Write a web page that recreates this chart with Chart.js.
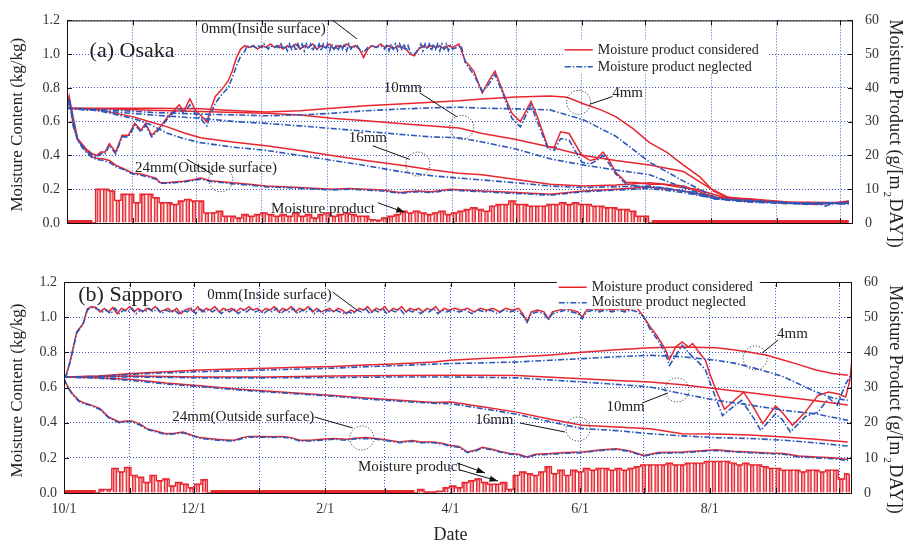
<!DOCTYPE html>
<html lang="en">
<head>
<meta charset="UTF-8">
<title>Moisture content and moisture product</title>
<style>
  html, body { margin: 0; padding: 0; background: #fff; }
  canvas { display: block; }
</style>
</head>
<body>
<canvas id="chartA" width="909" height="255"></canvas>
<canvas id="chartB" width="909" height="289"></canvas>
<script src="https://cdn.jsdelivr.net/npm/chart.js@4.4.0/dist/chart.umd.min.js"></script>
<script>
// days counted from 10/1
var monthDays = [0, 31, 61, 92, 123, 151, 182, 212, 243, 273, 304, 335, 365];
var monthLabels = ['10/1', '', '12/1', '', '2/1', '', '4/1', '', '6/1', '', '8/1', '', ''];
var contentTicks = [0, 0.2, 0.4, 0.6, 0.8, 1.0, 1.2];
var productTicks = [0, 10, 20, 30, 40, 50, 60];

var barDays = [
  0, 3, 6, 9, 12, 15, 18, 21, 24, 27,
  30, 33, 36, 39, 42, 45, 48, 51, 54, 57,
  60, 63, 66, 69, 72, 75, 78, 81, 84, 87,
  90, 93, 96, 99, 102, 105, 108, 111, 114, 117,
  120, 123, 126, 129, 132, 135, 138, 141, 144, 147,
  150, 153, 156, 159, 162, 165, 168, 171, 174, 177,
  180, 183, 186, 189, 192, 195, 198, 201, 204, 207,
  210, 213, 216, 219, 222, 225, 228, 231, 234, 237,
  240, 243, 246, 249, 252, 255, 258, 261, 264, 267,
  270, 273, 276, 279, 282, 285, 288, 291, 294, 297,
  300, 303, 306, 309, 312, 315, 318, 321, 324, 327,
  330, 333, 336, 339, 342, 345, 348, 351, 354, 357,
  360, 363, 366, 369
];

// ---------- (a) Osaka ----------
var osakaProduct = [
  0, 0, 0, 0, 0, 10, 10, 9.5, 6.7, 8.5,
  8.5, 6, 8.5, 8.5, 7.5, 6, 6, 5.5, 6.5, 7,
  6.5, 6.5, 3, 3, 3.5, 2, 2, 1.5, 2.5, 2,
  2.5, 3, 2.5, 2, 2.5, 2, 3, 2, 2.5, 1.5,
  2.5, 3, 2, 2.5, 3, 2.5, 2, 2, 1, 0.8,
  1.5, 2, 2.5, 3.5, 3, 3.5, 3, 2.5, 3, 3.5,
  2.5, 3, 3.5, 4, 4.5, 4, 3.5, 5, 5.5, 5.5,
  6.5, 5.5, 5.5, 5, 5, 5, 5.5, 5.5, 6, 5.5,
  6, 5.5, 5.5, 5, 5, 4.5, 4.5, 4, 4, 3.5,
  2, 2, 0, 0, 0, 0, 0, 0, 0, 0,
  0, 0, 0, 0, 0, 0, 0, 0, 0, 0,
  0, 0, 0, 0, 0, 0, 0, 0, 0, 0,
  0, 0, 0, 0
];

var osaka0Red = [[0,0.68],[1,0.75],[3,0.62],[5,0.50],[7,0.47],[9,0.44],[12,0.41],[14,0.40],[16,0.42],[18,0.42],[20,0.47],[23,0.42],[26,0.52],[29,0.52],[32,0.59],[35,0.55],[37,0.59],[40,0.52],[44,0.57],[47,0.62],[50,0.66],[53,0.70],[55,0.66],[58,0.735],[61,0.66],[63,0.64],[66,0.60],[68,0.68],[70,0.75],[73,0.79],[76,0.84],[78,0.90],[80,0.98],[82,1.03],[84,1.05],[86,1.04],[88,1.05],[90,1.03],[92,1.05],[94,1.04],[96,1.06],[98,1.04],[100,1.05],[102,1.03],[104,1.05],[106,1.04],[108,1.06],[110,1.03],[112,1.05],[114,1.04],[116,1.06],[118,1.03],[120,1.05],[122,1.04],[124,1.06],[126,1.03],[128,1.05],[130,1.04],[132,1.06],[134,1.04],[136,1.05],[138,1.03],[140,0.98],[142,1.03],[144,1.05],[146,1.04],[148,1.06],[150,1.04],[152,1.05],[154,1.03],[156,1.05],[158,1.04],[160,1.03],[162,1.00],[164,0.99],[166,1.03],[168,1.05],[170,1.04],[172,1.05],[174,1.04],[176,1.05],[178,1.03],[180,1.05],[182,1.04],[185,1.06],[188,0.96],[192,0.90],[196,0.77],[199,0.84],[202,0.90],[206,0.77],[210,0.65],[214,0.60],[219,0.72],[222,0.63],[227,0.45],[230,0.45],[233,0.54],[237,0.53],[243,0.40],[247,0.37],[250,0.38],[253,0.42],[256,0.37],[259,0.30],[264,0.24],[268,0.24],[275,0.23],[281,0.23],[290,0.21],[297,0.20],[305,0.17],[311,0.15],[322,0.14],[338,0.12],[354,0.11],[362,0.12],[369,0.13]];
var osaka0Blue = [[0,0.68],[1,0.74],[3,0.61],[5,0.49],[7,0.46],[9,0.43],[12,0.40],[14,0.39],[16,0.41],[18,0.41],[20,0.46],[23,0.41],[26,0.51],[29,0.51],[32,0.58],[35,0.54],[37,0.58],[40,0.51],[44,0.56],[47,0.61],[50,0.65],[53,0.68],[55,0.65],[58,0.70],[61,0.64],[63,0.62],[66,0.575],[68,0.65],[70,0.71],[73,0.76],[76,0.80],[78,0.86],[80,0.93],[82,0.99],[84,1.02],[85,1.05],[86,1.04],[88,1.05],[89,1.03],[90,1.05],[92,1.04],[93,1.06],[95,1.03],[96,1.05],[98,1.04],[99,1.05],[100,1.03],[101,1.06],[102,1.03],[103,1.05],[104,1.02],[105,1.06],[106,1.03],[107,1.06],[108,1.02],[109,1.06],[110,1.03],[111,1.06],[112,1.02],[113,1.06],[114,1.03],[115,1.06],[116,1.02],[117,1.05],[118,1.03],[119,1.06],[120,1.02],[121,1.06],[122,1.03],[123,1.06],[124,1.02],[125,1.06],[126,1.03],[127,1.05],[128,1.02],[129,1.06],[130,1.03],[131,1.06],[132,1.02],[133,1.06],[134,1.03],[135,1.05],[136,1.04],[137,1.05],[138,1.03],[140,1.01],[142,1.04],[144,1.05],[146,1.04],[148,1.05],[150,1.03],[151,1.06],[152,1.02],[153,1.06],[154,1.03],[155,1.06],[156,1.02],[157,1.06],[158,1.03],[159,1.06],[160,1.02],[161,1.05],[162,1.01],[164,1.00],[166,1.03],[167,1.06],[168,1.02],[169,1.06],[170,1.03],[171,1.06],[172,1.02],[173,1.06],[174,1.03],[175,1.06],[176,1.02],[177,1.06],[178,1.03],[179,1.06],[180,1.02],[181,1.05],[182,1.03],[184,1.04],[186,1.05],[188,0.95],[192,0.88],[196,0.78],[199,0.82],[202,0.88],[206,0.76],[210,0.62],[214,0.57],[219,0.70],[222,0.60],[227,0.44],[230,0.43],[233,0.50],[237,0.49],[243,0.36],[247,0.35],[250,0.37],[253,0.40],[256,0.35],[259,0.29],[264,0.23],[268,0.22],[275,0.21],[281,0.21],[290,0.19],[297,0.18],[305,0.15],[311,0.14],[322,0.13],[338,0.12],[350,0.11],[354,0.12],[358,0.10],[362,0.12],[366,0.11],[369,0.13]];
var osaka4Red = [[0,0.68],[20,0.68],[40,0.68],[63,0.676],[80,0.665],[94,0.657],[110,0.665],[125,0.68],[141,0.695],[157,0.705],[172,0.715],[185,0.724],[196,0.735],[212,0.747],[228,0.752],[236,0.745],[244,0.705],[252,0.67],[259,0.63],[267,0.56],[275,0.476],[283,0.42],[291,0.343],[299,0.27],[305,0.19],[311,0.155],[320,0.14],[338,0.125],[354,0.115],[369,0.12]];
var osaka4Blue = [[0,0.68],[20,0.67],[40,0.655],[63,0.645],[80,0.64],[94,0.635],[110,0.64],[125,0.65],[141,0.665],[157,0.675],[172,0.682],[185,0.686],[196,0.68],[212,0.676],[228,0.67],[244,0.61],[259,0.514],[267,0.438],[275,0.36],[291,0.248],[306,0.152],[314,0.135],[330,0.125],[350,0.115],[369,0.12]];
var osaka10Red = [[0,0.68],[20,0.675],[40,0.668],[63,0.66],[80,0.655],[94,0.65],[110,0.64],[125,0.62],[141,0.605],[157,0.59],[172,0.575],[185,0.562],[196,0.53],[212,0.495],[228,0.45],[244,0.40],[259,0.37],[275,0.343],[291,0.305],[303,0.21],[314,0.14],[330,0.125],[354,0.115],[369,0.12]];
var osaka10Blue = [[0,0.68],[20,0.66],[40,0.64],[63,0.62],[80,0.60],[94,0.59],[110,0.575],[125,0.56],[141,0.543],[157,0.525],[172,0.51],[185,0.505],[196,0.48],[212,0.438],[228,0.38],[244,0.343],[259,0.314],[275,0.286],[291,0.21],[306,0.143],[320,0.13],[340,0.12],[369,0.115]];
var osaka16Red = [[0,0.68],[15,0.67],[31,0.63],[39,0.60],[47,0.571],[55,0.535],[63,0.505],[78,0.48],[94,0.457],[110,0.43],[125,0.40],[141,0.37],[157,0.343],[172,0.315],[185,0.295],[196,0.286],[212,0.257],[228,0.229],[244,0.219],[259,0.225],[275,0.238],[291,0.219],[306,0.152],[320,0.13],[340,0.12],[369,0.12]];
var osaka16Blue = [[0,0.68],[15,0.665],[31,0.62],[39,0.585],[47,0.533],[55,0.50],[63,0.476],[78,0.45],[94,0.43],[110,0.40],[125,0.371],[141,0.34],[157,0.305],[172,0.28],[185,0.266],[196,0.255],[212,0.238],[228,0.219],[244,0.21],[259,0.215],[275,0.219],[291,0.19],[306,0.143],[320,0.125],[340,0.115],[369,0.115]];
var osaka24Red = [[0,0.68],[1,0.74],[3,0.58],[5,0.50],[7,0.46],[9,0.43],[12,0.39],[15,0.38],[17,0.38],[20,0.37],[23,0.343],[27,0.32],[31,0.295],[35,0.29],[39,0.276],[42,0.265],[44,0.238],[48,0.24],[52,0.245],[55,0.248],[59,0.255],[63,0.267],[68,0.25],[73,0.245],[78,0.238],[86,0.23],[94,0.219],[102,0.215],[110,0.21],[118,0.205],[125,0.2],[133,0.205],[141,0.2],[149,0.195],[157,0.18],[165,0.19],[172,0.185],[181,0.2],[196,0.19],[212,0.18],[228,0.171],[244,0.19],[259,0.2],[275,0.213],[291,0.19],[306,0.152],[322,0.143],[340,0.125],[369,0.12]];
var osaka24Blue = [[0,0.68],[1,0.735],[3,0.57],[5,0.49],[7,0.45],[9,0.42],[12,0.385],[15,0.375],[17,0.37],[20,0.36],[23,0.335],[27,0.315],[31,0.29],[35,0.283],[39,0.27],[42,0.26],[44,0.235],[48,0.235],[52,0.24],[55,0.243],[59,0.25],[63,0.26],[68,0.245],[73,0.24],[78,0.232],[86,0.225],[94,0.214],[102,0.21],[110,0.205],[118,0.2],[125,0.196],[133,0.2],[141,0.195],[149,0.19],[157,0.176],[165,0.185],[172,0.18],[181,0.195],[196,0.185],[212,0.175],[228,0.165],[244,0.185],[259,0.195],[275,0.205],[291,0.18],[306,0.145],[322,0.135],[340,0.12],[350,0.112],[358,0.118],[369,0.115]];

// ---------- (b) Sapporo ----------
var sapporoProduct = [
  0, 0, 0, 0, 0, 0, 1, 1, 7, 6,
  7.3, 5, 4.5, 3, 5, 3.5, 4, 2, 3, 2.5,
  1.5, 2.5, 3.8, 0, 0, 0, 0, 0, 0, 0,
  0, 0, 0, 0, 0, 0, 0, 0, 0, 0,
  0, 0, 0, 0, 0, 0, 0, 0, 0, 0,
  0, 0, 0, 0, 0, 0, 1, 0.3, 0.3, 0.5,
  1.5, 2, 1.5, 3, 3.5, 4, 3, 2.5, 2.5, 3,
  1, 5, 6, 5.5, 5, 6, 7.5, 5.5, 6.5, 5,
  6.5, 6, 7, 6.5, 7, 7, 6.5, 7, 6.5, 7,
  7.5, 8, 8, 8, 8, 8.5, 8, 8, 8.5, 8.5,
  8.5, 9, 9, 9, 9, 8.5, 8, 8.5, 8, 8,
  7.5, 7, 7, 6.5, 6.5, 6.5, 6, 6.5, 6.5, 6,
  6.5, 6.5, 4, 5.5
];

var sapporo0Red = [[0,0.66],[1,0.67],[3,0.755],[6,0.916],[9,0.963],[11,1.048],[13,1.06],[15,1.055],[17,1.03],[19,1.05],[21,1.03],[23,1.055],[25,1.02],[27,1.05],[29,1.04],[31,1.06],[33,1.03],[35,1.05],[37,1.03],[39,1.05],[41,1.04],[43,1.06],[45,1.03],[47,1.04],[49,1.05],[51,1.03],[53,1.05],[55,1.02],[57,1.04],[59,1.05],[61,1.03],[63,1.06],[65,1.03],[67,1.05],[69,1.04],[71,1.06],[73,1.03],[75,1.05],[77,1.04],[79,1.05],[81,1.03],[83,1.05],[85,1.04],[87,1.06],[89,1.04],[91,1.05],[93,1.03],[95,1.05],[97,1.04],[99,1.06],[101,1.03],[103,1.05],[105,1.04],[107,1.06],[109,1.03],[111,1.05],[113,1.04],[115,1.06],[117,1.03],[119,1.05],[121,1.03],[123,1.04],[125,1.05],[127,1.03],[129,1.05],[131,1.04],[133,1.02],[135,1.04],[137,1.03],[139,1.05],[141,1.04],[143,1.06],[145,1.03],[147,1.05],[149,1.04],[151,1.06],[153,1.03],[155,1.05],[157,1.04],[159,1.06],[161,1.03],[163,1.05],[165,1.04],[167,1.05],[169,1.03],[171,1.05],[173,1.04],[175,1.06],[177,1.03],[179,1.05],[181,1.04],[184,1.05],[187,1.04],[190,1.05],[193,1.03],[196,1.05],[199,1.04],[202,1.05],[205,1.03],[208,1.05],[211,1.04],[214,1.05],[216,1.02],[218,0.975],[220,1.03],[223,1.04],[226,1.03],[228,0.99],[230,1.03],[233,1.04],[236,1.05],[239,1.04],[242,1.03],[244,1.00],[246,1.04],[249,1.05],[252,1.04],[255,1.05],[258,1.04],[261,1.05],[264,1.04],[267,1.05],[270,1.05],[273,1.00],[276,0.944],[279,0.897],[283,0.82],[285,0.758],[288,0.83],[291,0.859],[294,0.83],[296,0.85],[299,0.80],[302,0.755],[304,0.68],[307,0.584],[311,0.476],[315,0.52],[320,0.574],[325,0.48],[329,0.394],[335,0.495],[338,0.46],[343,0.385],[349,0.46],[355,0.555],[360,0.574],[364,0.565],[368,0.546],[370,0.64],[371,0.764]];
var sapporo0Blue = [[0,0.66],[1,0.665],[3,0.75],[6,0.91],[9,0.96],[11,1.04],[13,1.055],[15,1.05],[18,1.03],[20,1.04],[22,1.02],[24,1.05],[26,1.02],[28,1.04],[30,1.03],[32,1.05],[34,1.02],[36,1.04],[38,1.03],[40,1.05],[42,1.03],[44,1.05],[46,1.02],[48,1.04],[50,1.03],[52,1.04],[54,1.02],[56,1.04],[58,1.03],[60,1.05],[62,1.02],[64,1.05],[66,1.03],[68,1.04],[70,1.03],[72,1.05],[74,1.02],[76,1.04],[78,1.03],[80,1.05],[82,1.02],[84,1.04],[86,1.03],[88,1.05],[90,1.03],[92,1.04],[94,1.02],[96,1.04],[98,1.03],[100,1.05],[102,1.02],[104,1.04],[106,1.03],[108,1.05],[110,1.02],[112,1.04],[114,1.03],[116,1.05],[118,1.02],[120,1.04],[122,1.02],[124,1.04],[126,1.03],[128,1.04],[130,1.03],[132,1.02],[134,1.03],[136,1.02],[138,1.04],[140,1.03],[142,1.05],[144,1.02],[146,1.04],[148,1.03],[150,1.05],[152,1.02],[154,1.04],[156,1.03],[158,1.05],[160,1.02],[162,1.04],[164,1.03],[166,1.04],[168,1.02],[170,1.04],[172,1.03],[174,1.05],[176,1.02],[178,1.04],[180,1.03],[183,1.04],[186,1.03],[189,1.04],[192,1.02],[195,1.04],[198,1.03],[201,1.04],[204,1.02],[207,1.04],[210,1.03],[213,1.04],[216,1.01],[218,0.97],[220,1.02],[223,1.03],[226,1.02],[228,0.985],[230,1.02],[233,1.03],[236,1.04],[239,1.03],[242,1.02],[244,0.99],[246,1.03],[249,1.04],[252,1.03],[255,1.04],[258,1.03],[261,1.04],[264,1.03],[267,1.04],[270,1.03],[273,1.00],[276,0.93],[279,0.88],[283,0.80],[285,0.726],[288,0.78],[291,0.84],[294,0.80],[296,0.773],[299,0.74],[302,0.70],[305,0.60],[310,0.44],[314,0.48],[319,0.527],[325,0.42],[328,0.356],[335,0.45],[338,0.42],[342,0.347],[349,0.435],[355,0.46],[360,0.54],[364,0.50],[368,0.62],[371,0.68]];
var sapporo4Red = [[0,0.66],[16,0.665],[32,0.68],[48,0.69],[64,0.70],[80,0.705],[95,0.71],[111,0.715],[127,0.72],[142,0.728],[158,0.735],[174,0.745],[182,0.755],[197,0.765],[213,0.773],[229,0.785],[244,0.80],[260,0.815],[276,0.826],[291,0.83],[307,0.826],[315,0.815],[323,0.80],[331,0.783],[339,0.755],[346,0.73],[354,0.70],[362,0.68],[369,0.67]];
var sapporo4Blue = [[0,0.66],[16,0.663],[32,0.675],[48,0.683],[64,0.69],[80,0.695],[95,0.70],[111,0.705],[127,0.71],[142,0.718],[158,0.725],[174,0.733],[182,0.736],[197,0.74],[213,0.745],[229,0.755],[244,0.764],[260,0.775],[276,0.783],[291,0.775],[307,0.755],[315,0.74],[323,0.717],[331,0.69],[339,0.66],[346,0.62],[354,0.575],[362,0.54],[369,0.527]];
var sapporo10Red = [[0,0.66],[32,0.665],[64,0.66],[95,0.66],[127,0.665],[158,0.668],[182,0.67],[213,0.668],[244,0.65],[260,0.64],[276,0.631],[291,0.615],[307,0.593],[323,0.57],[339,0.546],[354,0.525],[369,0.50]];
var sapporo10Blue = [[0,0.66],[32,0.66],[64,0.655],[95,0.655],[127,0.657],[158,0.66],[182,0.66],[213,0.655],[244,0.631],[260,0.618],[276,0.603],[291,0.565],[307,0.527],[323,0.50],[339,0.47],[354,0.45],[369,0.413]];
var sapporo16Red = [[0,0.66],[16,0.655],[32,0.645],[48,0.625],[64,0.61],[80,0.593],[95,0.58],[111,0.568],[127,0.555],[142,0.54],[158,0.528],[174,0.515],[182,0.517],[197,0.49],[213,0.46],[229,0.42],[244,0.385],[260,0.375],[276,0.366],[291,0.337],[307,0.335],[323,0.33],[339,0.318],[354,0.305],[369,0.29]];
var sapporo16Blue = [[0,0.66],[16,0.653],[32,0.64],[48,0.62],[64,0.605],[80,0.588],[95,0.575],[111,0.563],[127,0.55],[142,0.535],[158,0.522],[174,0.51],[182,0.508],[197,0.48],[213,0.448],[229,0.405],[244,0.366],[260,0.355],[276,0.337],[291,0.325],[307,0.315],[323,0.31],[339,0.30],[354,0.285],[369,0.267]];
var sapporo24Red = [[0,0.65],[2,0.6],[4,0.565],[7,0.527],[10,0.51],[12,0.504],[15,0.49],[17,0.48],[21,0.432],[26,0.404],[29,0.41],[32,0.41],[36,0.39],[39,0.366],[44,0.35],[48,0.337],[52,0.34],[56,0.347],[60,0.33],[64,0.315],[68,0.31],[72,0.305],[76,0.302],[80,0.3],[84,0.315],[87,0.322],[92,0.322],[97,0.32],[103,0.322],[107,0.315],[111,0.3],[116,0.3],[121,0.305],[127,0.31],[133,0.305],[137,0.312],[142,0.315],[147,0.31],[152,0.302],[158,0.29],[164,0.298],[168,0.29],[174,0.29],[179,0.28],[182,0.27],[186,0.265],[190,0.233],[194,0.245],[197,0.26],[201,0.25],[206,0.235],[210,0.225],[214,0.22],[218,0.205],[222,0.22],[229,0.224],[236,0.23],[244,0.233],[252,0.245],[260,0.252],[266,0.24],[273,0.214],[280,0.23],[291,0.233],[300,0.24],[307,0.246],[315,0.238],[323,0.233],[331,0.228],[339,0.224],[346,0.21],[354,0.205],[362,0.2],[369,0.19]];
var sapporo24Blue = [[0,0.65],[2,0.595],[4,0.56],[7,0.522],[10,0.505],[12,0.5],[15,0.485],[17,0.475],[21,0.428],[26,0.4],[29,0.405],[32,0.405],[36,0.385],[39,0.362],[44,0.345],[48,0.333],[52,0.336],[56,0.342],[60,0.326],[64,0.311],[68,0.306],[72,0.3],[76,0.298],[80,0.296],[84,0.31],[87,0.318],[92,0.318],[97,0.316],[103,0.318],[107,0.31],[111,0.296],[116,0.296],[121,0.3],[127,0.306],[133,0.3],[137,0.308],[142,0.31],[147,0.306],[152,0.298],[158,0.286],[164,0.294],[168,0.286],[174,0.286],[179,0.276],[182,0.266],[186,0.26],[190,0.229],[194,0.241],[197,0.256],[201,0.246],[206,0.231],[210,0.221],[214,0.216],[218,0.201],[222,0.216],[229,0.22],[236,0.226],[244,0.229],[252,0.241],[260,0.248],[266,0.236],[273,0.21],[280,0.226],[291,0.229],[300,0.236],[307,0.242],[315,0.234],[323,0.229],[331,0.224],[339,0.22],[346,0.205],[354,0.2],[362,0.195],[369,0.185]];

var RED = '#e8262f';
var BLUE = '#2b58b8';
var GRID = 'rgba(45,70,200,0.9)';
var SERIF = '"Liberation Serif", "Times New Roman", serif';

function pts(arr) {
  return arr.map(function (p) { return { x: p[0], y: p[1] }; });
}
function barPts(vals) {
  return barDays.map(function (d, i) { return { x: d, y: vals[i] }; });
}

function lineSet(data, red) {
  return {
    type: 'line',
    data: pts(data),
    yAxisID: 'y',
    borderColor: red ? RED : BLUE,
    borderWidth: red ? 1.5 : 1.6,
    borderDash: red ? [] : [6, 2, 1.5, 2],
    pointRadius: 0,
    tension: 0,
    fill: false,
    order: red ? 2 : 1
  };
}

// annotations placed in data coordinates (day, kg/kg)
var notesA = {
  texts: [
    ['(a) Osaka', 30.7, 1.017, 22],
    ['0mm(Inside surface)', 92.7, 1.15, 15],
    ['10mm', 158.5, 0.80, 15],
    ['16mm', 142, 0.503, 15],
    ['24mm(Outside surface)', 65.6, 0.326, 15],
    ['Moisture product', 120.8, 0.08, 15],
    ['4mm', 264.6, 0.771, 15]
  ],
  leaders: [
    [125.5, 1.2, 136.8, 1.091],
    [166.5, 0.771, 184, 0.629],
    [144.3, 0.457, 161.8, 0.377],
    [56.6, 0.377, 68.9, 0.286],
    [257.5, 0.749, 246.7, 0.703]
  ],
  circles: [[186.3, 0.566], [165.6, 0.349], [72.6, 0.257], [241.5, 0.714]],
  arrows: [[146.7, 0.12, 159.4, 0.063]],
  legend: [234, 1.086, 205, 34]
};
var notesB = {
  texts: [
    ['(b) Sapporo', 31.3, 1.126, 22],
    ['0mm(Inside surface)', 96.8, 1.126, 15],
    ['24mm(Outside surface)', 84.4, 0.432, 15],
    ['Moisture product', 162.8, 0.148, 15],
    ['16mm', 202.6, 0.415, 15],
    ['10mm', 264.4, 0.489, 15],
    ['4mm', 343, 0.904, 15]
  ],
  leaders: [
    [126.5, 1.143, 137.8, 1.041],
    [118, 0.432, 135.9, 0.37],
    [214.7, 0.398, 235.9, 0.347],
    [272.2, 0.512, 284.4, 0.569],
    [336.2, 0.87, 328.7, 0.796]
  ],
  circles: [[140.2, 0.313], [242, 0.364], [288.6, 0.586], [325.4, 0.768]],
  arrows: [[185, 0.171, 198.2, 0.114], [186.4, 0.131, 204.3, 0.068]],
  legend: [232, 1.223, 203, 31]
};

var decorPlugin = {
  id: 'decor',
  afterDraw: function (chart) {
    var o = chart.options.plugins.decor;
    var ctx = chart.ctx, a = chart.chartArea;
    var sx = chart.scales.x, sy = chart.scales.y, sy2 = chart.scales.y2;
    var X = function (d) { return sx.getPixelForValue(d); };
    var Y = function (v) { return sy.getPixelForValue(v); };
    ctx.save();

    // frame and inward ticks
    ctx.strokeStyle = '#111';
    ctx.lineWidth = 1;
    ctx.strokeRect(a.left + 0.5, a.top + 0.5, a.right - a.left - 1, a.bottom - a.top);
    ctx.beginPath();
    monthDays.forEach(function (d) {
      var x = Math.round(X(d)) + 0.5;
      ctx.moveTo(x, a.bottom); ctx.lineTo(x, a.bottom - 5);
      ctx.moveTo(x, a.top); ctx.lineTo(x, a.top + 5);
    });
    contentTicks.forEach(function (v) {
      var y = Math.round(Y(v)) + 0.5;
      ctx.moveTo(a.left, y); ctx.lineTo(a.left + 5, y);
    });
    productTicks.forEach(function (v) {
      var y = Math.round(sy2.getPixelForValue(v)) + 0.5;
      ctx.moveTo(a.right, y); ctx.lineTo(a.right - 5, y);
    });
    ctx.stroke();

    var n = o.notes;
    ctx.strokeStyle = '#111';

    // legend
    var lg = n.legend, lx = X(lg[0]), ly = Y(lg[1]);
    ctx.fillStyle = '#fff';
    ctx.fillRect(lx, ly, lg[2], lg[3]);
    var r1 = ly + lg[3] * 0.3, r2 = ly + lg[3] * 0.8;
    ctx.lineWidth = 1.5;
    ctx.strokeStyle = RED;
    ctx.beginPath(); ctx.moveTo(lx + 2, r1); ctx.lineTo(lx + 30, r1); ctx.stroke();
    ctx.strokeStyle = BLUE;
    ctx.setLineDash([6, 2, 1.5, 2]);
    ctx.beginPath(); ctx.moveTo(lx + 2, r2); ctx.lineTo(lx + 30, r2); ctx.stroke();
    ctx.setLineDash([]);
    ctx.fillStyle = '#222';
    ctx.font = '14px ' + SERIF;
    ctx.textAlign = 'left';
    ctx.textBaseline = 'middle';
    ctx.fillText('Moisture product considered', lx + 35, r1);
    ctx.fillText('Moisture product neglected', lx + 35, r2);

    // texts
    ctx.textAlign = 'center';
    n.texts.forEach(function (t) {
      ctx.font = t[3] + 'px ' + SERIF;
      ctx.fillText(t[0], X(t[1]), Y(t[2]));
    });
    // leader lines
    ctx.strokeStyle = '#111';
    ctx.lineWidth = 1;
    ctx.beginPath();
    n.leaders.forEach(function (l) {
      ctx.moveTo(X(l[0]), Y(l[1])); ctx.lineTo(X(l[2]), Y(l[3]));
    });
    ctx.stroke();
    // dotted circles
    ctx.setLineDash([1, 2]);
    n.circles.forEach(function (c) {
      ctx.beginPath(); ctx.arc(X(c[0]), Y(c[1]), 12, 0, Math.PI * 2); ctx.stroke();
    });
    ctx.setLineDash([]);
    // arrows
    n.arrows.forEach(function (l) {
      var x1 = X(l[0]), y1 = Y(l[1]), x2 = X(l[2]), y2 = Y(l[3]);
      var ang = Math.atan2(y2 - y1, x2 - x1);
      ctx.beginPath(); ctx.moveTo(x1, y1); ctx.lineTo(x2, y2); ctx.stroke();
      ctx.beginPath();
      ctx.moveTo(x2, y2);
      ctx.lineTo(x2 - 9 * Math.cos(ang - 0.35), y2 - 9 * Math.sin(ang - 0.35));
      ctx.lineTo(x2 - 9 * Math.cos(ang + 0.35), y2 - 9 * Math.sin(ang + 0.35));
      ctx.closePath();
      ctx.fillStyle = '#111';
      ctx.fill();
    });

    // axis titles
    ctx.fillStyle = '#222';
    var cy = (a.top + a.bottom) / 2;
    ctx.font = '17px ' + SERIF;
    ctx.textBaseline = 'middle';
    ctx.save();
    ctx.translate(18, cy + 3);
    ctx.rotate(-Math.PI / 2);
    ctx.textAlign = 'center';
    ctx.fillText('Moisture Content (kg/kg)', 0, 0);
    ctx.restore();

    ctx.save();
    ctx.translate(chart.width - 14, cy + 12);
    ctx.rotate(Math.PI / 2);
    ctx.font = '18px ' + SERIF;
    ctx.textAlign = 'left';
    var p1 = 'Moisture Product (g/[m', p2 = 'DAY])';
    var w1 = ctx.measureText(p1).width, w2 = ctx.measureText(p2).width;
    var x0 = -(w1 + 9 + w2) / 2;
    ctx.fillText(p1, x0, 0);
    ctx.fillText(p2, x0 + w1 + 9, 0);
    ctx.font = '11px ' + SERIF;
    ctx.fillText('2', x0 + w1 + 2, 8);
    ctx.restore();

    if (o.showDate) {
      ctx.font = '18px ' + SERIF;
      ctx.textAlign = 'center';
      ctx.fillText('Date', X(182), chart.height - 9);
    }
    ctx.restore();
  }
};

function makePanel(id, product, lines, notes, box, showDate) {
  var datasets = [
    {
      type: 'bar',
      data: barPts(product),
      yAxisID: 'y2',
      backgroundColor: 'rgba(242,110,118,0.5)',
      borderColor: RED,
      borderWidth: { left: 1, right: 1, top: 1, bottom: 0 },
      barThickness: 4,
      order: 4
    },
    {
      // outline of the daily product, thick where the product stays at zero
      type: 'line',
      data: barPts(product),
      yAxisID: 'y2',
      stepped: 'middle',
      borderColor: RED,
      borderWidth: 1.4,
      segment: {
        borderWidth: function (c) { return (c.p0.parsed.y === 0 && c.p1.parsed.y === 0) ? 6 : 1.4; }
      },
      pointRadius: 0,
      fill: false,
      clip: 0,
      order: 3
    }
  ];
  lines.forEach(function (l) { datasets.push(lineSet(l[0], l[1])); });

  var c = document.getElementById(id);
  return new Chart(c, {
    type: 'line',
    data: { datasets: datasets },
    plugins: [decorPlugin],
    options: {
      responsive: false,
      animation: false,
      devicePixelRatio: 1,
      layout: { padding: { top: box.top, bottom: 0, left: 0, right: 0 } },
      plugins: {
        legend: { display: false },
        tooltip: { enabled: false },
        decor: { notes: notes, showDate: showDate }
      },
      scales: {
        x: {
          type: 'linear',
          offset: false,
          min: 0,
          max: 371,
          afterBuildTicks: function (s) { s.ticks = monthDays.map(function (v) { return { value: v }; }); },
          afterFit: function (s) { s.height = box.xh; },
          grid: { color: GRID, lineWidth: 1, drawTicks: false, offset: false },
          border: { display: false, dash: [1, 2] },
          ticks: {
            display: showDate,
            autoSkip: false,
            maxRotation: 0,
            padding: 8,
            color: '#333',
            font: { family: SERIF, size: 14 },
            callback: function (v, i) { return monthLabels[i]; }
          }
        },
        y: {
          position: 'left',
          min: 0,
          max: 1.2,
          afterBuildTicks: function (s) { s.ticks = contentTicks.map(function (v) { return { value: v }; }); },
          afterFit: function (s) { s.width = box.left; },
          grid: { color: GRID, lineWidth: 1, drawTicks: false },
          border: { display: false, dash: [1, 2] },
          ticks: {
            padding: 7,
            color: '#333',
            font: { family: SERIF, size: 14 },
            callback: function (v) { return v.toFixed(1); }
          }
        },
        y2: {
          position: 'right',
          min: 0,
          max: 60,
          afterBuildTicks: function (s) { s.ticks = productTicks.map(function (v) { return { value: v }; }); },
          afterFit: function (s) { s.width = 909 - box.right; },
          grid: { drawOnChartArea: false, drawTicks: false },
          border: { display: false },
          ticks: {
            padding: 12,
            color: '#333',
            font: { family: SERIF, size: 14 }
          }
        }
      }
    }
  });
}

makePanel('chartA', osakaProduct, [
  [osaka24Red, true], [osaka16Red, true], [osaka10Red, true], [osaka4Red, true], [osaka0Red, true],
  [osaka24Blue, false], [osaka16Blue, false], [osaka10Blue, false], [osaka4Blue, false], [osaka0Blue, false]
], notesA, { top: 13, xh: 32, left: 67, right: 853 }, false);

makePanel('chartB', sapporoProduct, [
  [sapporo24Red, true], [sapporo16Red, true], [sapporo10Red, true], [sapporo4Red, true], [sapporo0Red, true],
  [sapporo24Blue, false], [sapporo16Blue, false], [sapporo10Blue, false], [sapporo4Blue, false], [sapporo0Blue, false]
], notesB, { top: 27, xh: 51, left: 64, right: 852 }, true);
</script>
</body>
</html>
